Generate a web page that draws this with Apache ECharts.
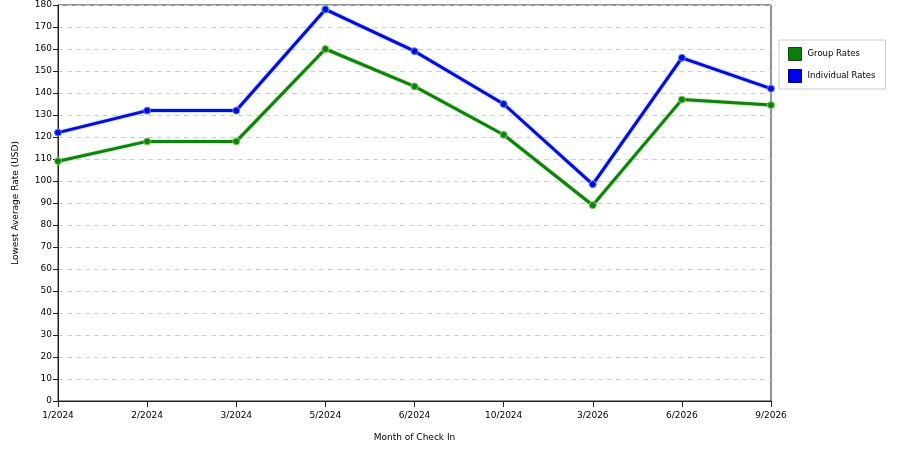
<!DOCTYPE html>
<html><head><meta charset="utf-8">
<script src="https://cdn.jsdelivr.net/npm/echarts@6/dist/echarts.min.js"></script>
<style>html,body{margin:0;padding:0;background:#fff}#c{width:900px;height:450px}</style>
</head><body><div id="c"></div>
<script>
var categories = ['1/2024','2/2024','3/2024','5/2024','6/2024','10/2024','3/2026','6/2026','9/2026'];
var groupRates = [109, 118, 118, 160, 143, 121, 89, 137, 134.5];
var individualRates = [122, 132, 132, 178, 159, 135, 98.5, 156, 142];
var yTicks = {min: 0, max: 180, interval: 10};

var chart = echarts.init(document.getElementById('c'), null, {renderer: 'canvas'});
var font = 'DejaVu Sans';
function lineSeries(name, data, color, halo) {
  return {
    name: name, type: 'line', data: data,
    symbol: 'circle', symbolSize: 7,
    lineStyle: {color: color, width: 3, shadowColor: halo, shadowBlur: 2},
    itemStyle: {color: color, borderColor: halo, borderWidth: 1},
    emphasis: {disabled: true}, animation: false
  };
}
chart.setOption({
  backgroundColor: '#fff',
  animation: false,
  grid: {left: 58, top: 5, width: 713, height: 396, show: true, borderColor: '#222', borderWidth: 1, backgroundColor: 'transparent'},
  legend: {
    orient: 'vertical', left: 779, top: 40,
    padding: [7, 10, 6, 9], itemGap: 8,
    borderColor: '#ccc', borderWidth: 1,
    icon: 'rect', itemWidth: 13, itemHeight: 13,
    textStyle: {fontFamily: font, fontSize: 8.5, color: '#000', padding: [0, 0, 0, 1]},
    data: [
      {name: 'Group Rates', itemStyle: {color: '#0b7d0b', borderColor: '#0a4a0a', borderWidth: 1}},
      {name: 'Individual Rates', itemStyle: {color: '#0000f0', borderColor: '#00007a', borderWidth: 1}}
    ]
  },
  xAxis: {
    type: 'category', data: categories, boundaryGap: false,
    name: 'Month of Check In', nameLocation: 'middle', nameGap: 32,
    nameTextStyle: {fontFamily: font, fontSize: 9, color: '#000'},
    axisLine: {lineStyle: {color: '#222', width: 1}},
    axisTick: {show: true, length: 6, lineStyle: {color: '#222'}, alignWithLabel: true},
    axisLabel: {fontFamily: font, fontSize: 9, color: '#000', margin: 10, showMaxLabel: true, showMinLabel: true, interval: 0},
    splitLine: {show: false}
  },
  yAxis: {
    type: 'value', min: yTicks.min, max: yTicks.max, interval: yTicks.interval,
    name: 'Lowest Average Rate (USD)', nameLocation: 'middle', nameGap: 38,
    nameTextStyle: {fontFamily: font, fontSize: 9, color: '#000'},
    axisLine: {show: true, lineStyle: {color: '#222', width: 1}},
    axisTick: {show: true, length: 5, lineStyle: {color: '#222'}},
    axisLabel: {fontFamily: font, fontSize: 9, color: '#000', margin: 6},
    splitLine: {show: true, lineStyle: {color: '#d0d0d0', type: [5, 4], width: 1}}
  },
  series: [
    lineSeries('Group Rates', groupRates, '#108010', '#7fcf5f'),
    lineSeries('Individual Rates', individualRates, '#0a0ad8', '#4f8fff')
  ]
});
</script></body></html>
